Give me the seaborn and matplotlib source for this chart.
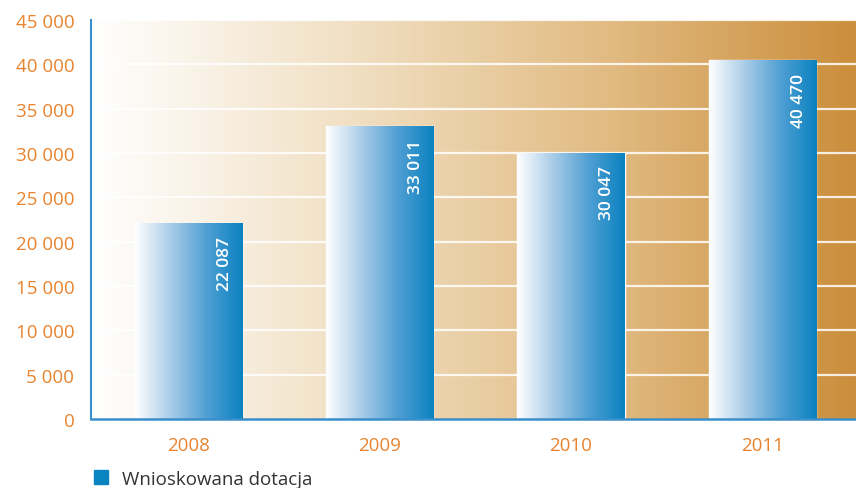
import numpy as np
import pandas as pd
import seaborn as sns
import matplotlib.pyplot as plt
from matplotlib.colors import LinearSegmentedColormap
from matplotlib.lines import Line2D

years = ['2008', '2009', '2010', '2011']
dotacja = [22087, 33011, 30047, 40470]
labels = ['22 087', '33 011', '30 047', '40 470']
yticks = [0, 5000, 10000, 15000, 20000, 25000, 30000, 35000, 40000, 45000]
ytick_labels = ['0', '5 000', '10 000', '15 000', '20 000', '25 000',
                '30 000', '35 000', '40 000', '45 000']

orange = '#E8832E'
blue = '#0A84C1'

sns.set_theme(style='white')
plt.rcParams['font.family'] = ['Open Sans', 'DejaVu Sans']

df = pd.DataFrame({'rok': years, 'dotacja': dotacja})

fig = plt.figure(figsize=(8.56, 4.89), dpi=100)
ax = fig.add_axes([0.1063, 0.141, 0.8937, 0.816])

sns.barplot(data=df, x='rok', y='dotacja', width=0.56, color=blue, ax=ax, zorder=3)

ax.set_xlim(-0.51, 3.49)
ax.set_ylim(0, 45000)

# background gradient
bg_cmap = LinearSegmentedColormap.from_list('bg', ['#FFFFFF', '#F1E0C4', '#E2BC84', '#CB8E3C'])
grad = np.linspace(0, 1, 256).reshape(1, -1)
ax.imshow(grad, cmap=bg_cmap, aspect='auto', extent=[-0.51, 3.49, 0, 45000],
          zorder=0, interpolation='bicubic')

# grid lines
for yv in yticks[1:]:
    ax.axhline(yv, color='white', lw=1.6, alpha=0.85, zorder=1)

# gradient fill on bars
bar_cmap = LinearSegmentedColormap.from_list('bar', ['#FFFFFF', '#A9CCE8', '#4F9FD3', '#0A82C0'])
for p in ax.patches:
    x0, y0 = p.get_x(), p.get_y()
    w, h = p.get_width(), p.get_height()
    im = ax.imshow(grad, cmap=bar_cmap, aspect='auto', extent=[x0, x0 + w, y0, y0 + h],
                   zorder=4, interpolation='bicubic')
    im.set_clip_path(p)

# value labels
for i, p in enumerate(ax.patches):
    xc = p.get_x() + p.get_width() * 0.84
    ax.text(xc, p.get_height() - 1400, labels[i], rotation=90, ha='center', va='top',
            color='white', fontsize=12.5, fontweight='semibold', zorder=6)

ax.set_yticks(yticks)
ax.set_yticklabels(ytick_labels)
ax.tick_params(axis='y', colors=orange, labelsize=13.5, length=0, pad=12)
ax.tick_params(axis='x', colors=orange, labelsize=13.5, length=0, pad=12)
ax.set_xlabel('')
ax.set_ylabel('')

for s in ['top', 'right']:
    ax.spines[s].set_visible(False)
ax.spines['left'].set_color('#3A8FCB')
ax.spines['left'].set_linewidth(1.5)
ax.spines['bottom'].set_color('#3A8FCB')
ax.spines['bottom'].set_linewidth(1.8)
ax.spines['left'].set_zorder(7)
ax.spines['bottom'].set_zorder(7)

handle = Line2D([], [], marker='s', color=blue, linestyle='none', markersize=10)
fig.legend([handle], ['Wnioskowana dotacja'], loc='center left',
           bbox_to_anchor=(92 / 856, 1 - 480 / 489), borderpad=0, borderaxespad=0,
           frameon=False, fontsize=13.5, labelcolor='#333333',
           handlelength=1.0, handletextpad=0.6)

fig.savefig('out.png', dpi=100)
